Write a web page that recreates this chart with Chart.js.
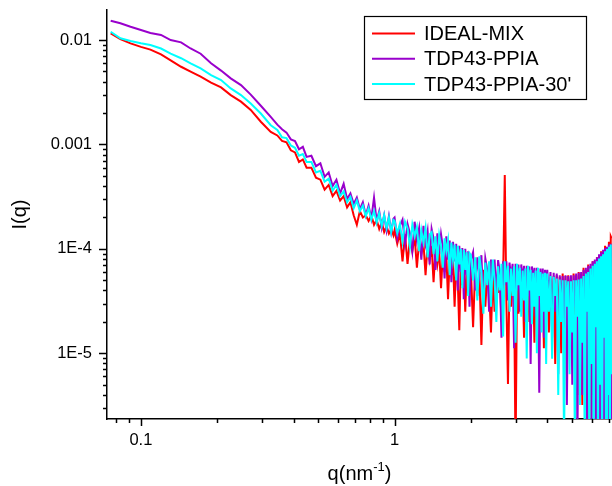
<!DOCTYPE html>
<html>
<head>
<meta charset="utf-8">
<script src="https://cdn.jsdelivr.net/npm/chart.js@4.4.0/dist/chart.umd.min.js"></script>
<style>
  body { margin: 0; background: #fff; }
  canvas { display: block; }
</style>
</head>
<body>
<canvas id="saxs-canvas" width="612" height="486"></canvas>
<script>
// q (nm^-1), shared by the three curves
const qValues = [
    0.076, 0.083, 0.091, 0.1, 0.109, 0.12, 0.131, 0.144, 0.157, 0.172, 0.189, 0.207, 0.226, 0.248, 0.271, 0.297, 0.325,
    0.345, 0.36, 0.375, 0.39, 0.405, 0.42, 0.435, 0.45, 0.47, 0.49, 0.51, 0.53, 0.55, 0.57, 0.59, 0.61, 0.63, 0.65,
    0.67, 0.69, 0.71, 0.73, 0.75, 0.77, 0.79, 0.81, 0.83, 0.85, 0.87, 0.89, 0.91, 0.93, 0.95, 0.97, 0.99,
    1.0, 1.025, 1.05, 1.075, 1.1, 1.125, 1.15, 1.175, 1.2, 1.225, 1.25, 1.275, 1.3, 1.325, 1.35, 1.375, 1.4, 1.425,
    1.45, 1.475, 1.5, 1.525, 1.55, 1.575, 1.6, 1.625, 1.65, 1.675, 1.7, 1.725, 1.75, 1.775, 1.8, 1.825, 1.85, 1.875,
    1.9, 1.925, 1.95, 1.975,
    2.0, 2.04, 2.08, 2.12, 2.16, 2.2, 2.24, 2.28, 2.32, 2.36, 2.4, 2.44, 2.48, 2.52, 2.56, 2.6, 2.64, 2.68, 2.72, 2.76,
    2.8, 2.84, 2.88, 2.92, 2.96, 3.0, 3.04, 3.08, 3.12, 3.16, 3.2, 3.24, 3.28, 3.32, 3.36, 3.4, 3.44, 3.48, 3.52, 3.56,
    3.6, 3.64, 3.68, 3.72, 3.76, 3.8, 3.84, 3.88, 3.92, 3.96,
    4.0, 4.06, 4.12, 4.18, 4.24, 4.3, 4.36, 4.42, 4.48, 4.54, 4.6, 4.66, 4.72, 4.78, 4.84, 4.9, 4.96, 5.02, 5.08, 5.14,
    5.2, 5.26, 5.32, 5.38, 5.44, 5.5, 5.56, 5.62, 5.68, 5.74, 5.8, 5.86, 5.92, 5.98, 6.04, 6.1, 6.16, 6.22, 6.28, 6.34,
    6.4, 6.46, 6.52, 6.58, 6.64, 6.7, 6.76, 6.82, 6.88, 6.94, 7.0, 7.06, 7.12, 7.18
];

// I(q) IDEAL-MIX
const idealMix = [
    1.16e-2, 1.02e-2, 9.3e-3, 8.6e-3, 8.1e-3, 7.3e-3, 6.4e-3, 5.55e-3, 4.98e-3, 4.46e-3, 3.91e-3, 3.52e-3, 2.97e-3, 2.57e-3, 2.14e-3, 1.65e-3, 1.32e-3,
    1.22e-3, 1.08e-3, 1.05e-3, 8.8e-4, 8.4e-4, 6.8e-4, 7.2e-4, 6.0e-4, 6.0e-4, 4.8e-4,
    4.6e-4, 3.7e-4, 4.1e-4, 3.2e-4, 3.6e-4, 2.9e-4, 3.2e-4, 2.5e-4, 2.8e-4, 2.1e-4,
    1.7e-4, 2.3e-4, 2.0e-4, 2.1e-4, 1.85e-4, 2.1e-4, 1.7e-4, 1.9e-4, 1.55e-4, 1.8e-4,
    1.45e-4, 1.65e-4, 1.4e-4, 1.55e-4, 1.35e-4,
    1.51e-4, 1.12e-4, 1.41e-4, 7.6e-5, 1.38e-4, 7.2e-5, 1.26e-4, 9.5e-5, 1.32e-4, 6.6e-5,
    1.2e-4, 8.9e-5, 1.15e-4, 5.6e-5, 1.1e-4, 7.9e-5, 1.07e-4, 4.8e-5, 1.0e-4, 7.1e-5,
    9.5e-5, 4.2e-5, 9.1e-5, 6.0e-5, 8.7e-5, 3.3e-5, 8.3e-5, 5.6e-5, 7.9e-5, 2.8e-5,
    7.6e-5, 5.0e-5, 1.66e-5, 7.2e-5, 4.5e-5, 6.9e-5, 2.5e-5, 6.6e-5, 4.0e-5, 6.3e-5,
    6.3e-5, 1.78e-5, 6.6e-5, 3.55e-5, 6.0e-5, 1.2e-5, 6.3e-5, 2.8e-5, 5.8e-5, 4.0e-5,
    1.58e-5, 5.8e-5, 2.5e-5, 5.6e-5, 3.8e-5, 5.5e-5, 2.0e-5, 5.5e-5, 5.1e-4, 3.2e-5,
    5.1e-6, 5.4e-5, 2.8e-5, 5.4e-5, 4.0e-5, 1.0e-6, 5.2e-5, 2.4e-5, 5.2e-5, 3.55e-5,
    5.1e-5, 1.41e-5, 5.1e-5, 3.2e-5, 5.0e-5, 2.0e-5, 5.0e-5, 3.55e-5, 4.9e-5, 1.26e-5,
    4.9e-5, 2.8e-5, 4.8e-5, 1.78e-5, 4.8e-5, 3.3e-5, 4.7e-5, 1.12e-5, 4.7e-5, 2.5e-5,
    5.0e-5, 1.58e-5, 5.2e-5, 2.8e-5, 5.5e-5, 7.9e-6, 5.6e-5, 2.24e-5, 5.4e-5, 1.0e-5,
    5.8e-5, 2.0e-5, 5.5e-5, 6.3e-6, 5.6e-5, 2.5e-5, 5.4e-5, 1.0e-5, 5.8e-5, 1.78e-5,
    5.6e-5, 4.0e-6, 6.0e-5, 2.0e-5, 5.8e-5, 3.2e-6, 6.6e-5, 1.41e-5, 6.3e-5, 5.0e-6,
    7.1e-5, 1.3e-6, 6.8e-5, 1.0e-5, 7.6e-5, 4.0e-6, 7.2e-5, 1.3e-6, 8.3e-5, 7.9e-6,
    7.9e-5, 1.3e-6, 9.5e-5, 5.0e-6, 8.9e-5, 1.3e-6, 1.07e-4, 6.3e-6, 1.0e-4, 1.3e-6,
    1.17e-4, 3.2e-6, 1.32e-4, 1.26e-4
];

// I(q) TDP43-PPIA
const tdp43Ppia = [
    1.53e-2, 1.45e-2, 1.34e-2, 1.25e-2, 1.17e-2, 1.12e-2, 1.0e-2, 9.5e-3, 8.3e-3, 7.4e-3, 6.0e-3, 5.1e-3, 4.3e-3, 3.7e-3, 3.0e-3, 2.35e-3, 1.84e-3,
    1.55e-3, 1.40e-3, 1.30e-3, 1.12e-3, 1.08e-3, 9.0e-4, 9.5e-4, 7.6e-4, 7.8e-4, 6.2e-4,
    6.6e-4, 4.9e-4, 5.4e-4, 4.0e-4, 4.6e-4, 3.4e-4, 4.2e-4, 3.0e-4, 3.4e-4, 2.7e-4,
    3.1e-4, 2.4e-4, 2.8e-4, 2.1e-4, 2.6e-4, 1.95e-4, 3.1e-4, 1.85e-4, 2.3e-4, 1.6e-4,
    2.1e-4, 1.5e-4, 2.05e-4, 1.45e-4, 1.95e-4,
    2.0e-4, 1.26e-4, 1.66e-4, 1.9e-4, 1.12e-4, 1.74e-4, 1.41e-4, 9.5e-5, 1.82e-4, 1.2e-4,
    1.58e-4, 7.9e-5, 1.66e-4, 1.12e-4, 1.48e-4, 7.1e-5, 1.55e-4, 1.26e-4, 6.3e-5, 1.41e-4,
    8.9e-5, 1.38e-4, 1.05e-4, 5.2e-5, 1.32e-4, 7.9e-5, 1.2e-4, 4.8e-5, 1.17e-4, 7.6e-5,
    1.12e-4, 4.0e-5, 1.07e-4, 6.0e-5, 1.02e-4, 3.3e-5, 1.0e-4, 5.6e-5, 9.5e-5, 2.8e-5,
    7.9e-5, 9.3e-5, 4.0e-5, 8.3e-5, 5.6e-5, 8.7e-5, 2.8e-5, 8.1e-5, 6.3e-5, 2.5e-5,
    7.9e-5, 5.0e-5, 7.9e-5, 3.55e-5, 7.8e-5, 6.0e-5, 1.41e-5, 7.6e-5, 4.5e-5, 7.6e-5,
    3.2e-5, 7.4e-5, 5.2e-5, 7.2e-5, 1.12e-5, 7.2e-5, 4.0e-5, 7.1e-5, 2.5e-5, 7.1e-5,
    4.8e-5, 6.9e-5, 2.0e-5, 6.9e-5, 3.55e-5, 6.8e-5, 7.9e-6, 6.8e-5, 4.5e-5, 6.6e-5,
    2.24e-5, 6.6e-5, 4.0e-5, 4.2e-6, 6.5e-5, 3.2e-5, 6.5e-5, 1.41e-5, 6.3e-5, 3.8e-5,
    6.3e-5, 3.55e-5, 6.0e-5, 1.41e-5, 5.9e-5, 2.5e-5, 5.8e-5, 6.3e-6, 5.6e-5, 3.2e-5,
    5.5e-5, 1.0e-5, 5.6e-5, 3.2e-6, 5.5e-5, 2.0e-5, 5.6e-5, 5.0e-6, 5.6e-5, 2.8e-5,
    5.8e-5, 1.3e-6, 5.9e-5, 1.58e-5, 6.0e-5, 4.0e-6, 6.3e-5, 2.24e-5, 6.6e-5, 1.3e-6,
    6.9e-5, 1.0e-5, 7.2e-5, 1.3e-6, 7.6e-5, 1.78e-5, 7.9e-5, 1.3e-6, 8.3e-5, 5.0e-6,
    8.9e-5, 1.3e-6, 9.3e-5, 1.26e-5, 9.8e-5, 1.3e-6, 1.02e-4, 4.0e-6, 1.05e-4, 1.3e-6,
    1.1e-4, 1.0e-5, 1.12e-4, 1.3e-6
];

// I(q) TDP43-PPIA-30'
const tdp43Ppia30 = [
    1.20e-2, 1.04e-2, 9.8e-3, 9.3e-3, 8.95e-3, 8.3e-3, 7.4e-3, 6.7e-3, 5.98e-3, 5.36e-3, 4.62e-3, 4.14e-3, 3.44e-3, 2.97e-3, 2.47e-3, 1.98e-3, 1.53e-3,
    1.38e-3, 1.17e-3, 1.15e-3, 9.8e-4, 9.3e-4, 7.8e-4, 8.1e-4, 6.8e-4, 6.8e-4, 5.4e-4,
    5.6e-4, 4.4e-4, 4.7e-4, 3.6e-4, 4.1e-4, 3.2e-4, 3.55e-4, 2.8e-4, 3.15e-4, 2.45e-4,
    2.9e-4, 2.3e-4, 2.6e-4, 2.05e-4, 2.45e-4, 1.9e-4, 2.3e-4, 1.78e-4, 2.2e-4, 1.66e-4,
    2.1e-4, 1.58e-4, 2.0e-4, 1.45e-4, 1.9e-4,
    1.86e-4, 1.41e-4, 1.74e-4, 1.17e-4, 1.82e-4, 1.58e-4, 1.05e-4, 1.70e-4, 1.32e-4, 1.62e-4,
    9.5e-5, 1.51e-4, 1.15e-4, 1.58e-4, 8.3e-5, 1.38e-4, 1.45e-4, 8.9e-5, 1.32e-4, 7.6e-5,
    1.35e-4, 1.07e-4, 6.6e-5, 1.26e-4, 9.5e-5, 1.2e-4, 5.6e-5, 1.15e-4, 7.9e-5, 1.1e-4,
    5.0e-5, 1.07e-4, 7.1e-5, 1.0e-4, 4.2e-5, 9.8e-5, 6.3e-5, 9.3e-5, 3.55e-5, 9.1e-5,
    8.7e-5, 5.0e-5, 8.3e-5, 3.2e-5, 8.5e-5, 6.0e-5, 2.4e-5, 7.4e-5, 4.5e-5, 7.6e-5,
    2.8e-5, 7.9e-5, 5.2e-5, 2.0e-5, 6.8e-5, 4.0e-5, 7.2e-5, 1.45e-5, 7.6e-5, 4.8e-5,
    6.9e-5, 2.5e-5, 6.5e-5, 3.55e-5, 6.8e-5, 1.26e-5, 7.2e-5, 4.5e-5, 6.6e-5, 2.24e-5,
    6.2e-5, 3.2e-5, 6.5e-5, 8.9e-6, 6.9e-5, 4.0e-5, 6.3e-5, 1.9e-5, 5.9e-5, 2.8e-5,
    6.2e-5, 1.0e-5, 6.6e-5, 3.55e-5, 6.0e-5, 1.58e-5, 5.8e-5, 2.5e-5, 5.9e-5, 7.9e-6,
    5.8e-5, 2.5e-5, 5.5e-5, 8.9e-6, 5.4e-5, 3.55e-5, 5.2e-5, 4.0e-6, 5.1e-5, 2.0e-5,
    5.0e-5, 1.3e-6, 5.0e-5, 2.8e-5, 4.9e-5, 6.3e-6, 4.9e-5, 1.58e-5, 5.0e-5, 1.3e-6,
    5.0e-5, 2.24e-5, 5.1e-5, 3.2e-6, 5.2e-5, 1.26e-5, 5.5e-5, 1.3e-6, 5.8e-5, 2.5e-5,
    6.0e-5, 1.3e-6, 6.5e-5, 7.9e-6, 6.9e-5, 1.3e-6, 7.2e-5, 1.78e-5, 7.6e-5, 1.3e-6,
    8.1e-5, 5.0e-6, 8.5e-5, 1.3e-6, 8.9e-5, 1.41e-5, 9.5e-5, 1.3e-6, 1.0e-4, 4.0e-6,
    1.05e-4, 1.3e-6, 1.1e-4, 6.3e-6
];

const seriesLabels = ['IDEAL-MIX', 'TDP43-PPIA', "TDP43-PPIA-30'"];
const seriesColors = ['#ff0000', '#9900cc', '#00ffff'];

// labelled ticks
const xTickValues = [0.1, 1];
const xTickLabels = ['0.1', '1'];
const yTickValues = [1e-5, 1e-4, 1e-3, 1e-2];
const yTickLabels = ['1E-5', '1E-4', '0.001', '0.01'];

const FONT = '"Liberation Sans", Arial, sans-serif';

// 1..9 x 10^n ticks inside [min, max]
function logTicks(min, max) {
    let ticks = [];
    for (let e = Math.floor(Math.log10(min)); e <= Math.ceil(Math.log10(max)); e++) {
        for (let m = 1; m <= 9; m++) {
            let v = m * Math.pow(10, e);
            if (v >= min && v <= max) ticks.push({value: v});
        }
    }
    return ticks;
}

function tickLabel(value, values, labels) {
    for (let i = 0; i < values.length; i++) {
        if (Math.abs(value / values[i] - 1) < 1e-6) return labels[i];
    }
    return '';
}

function toPoints(ys) {
    return qValues.map((q, i) => ({x: q, y: ys[i]}));
}

// no extra room for half tick labels at the ends of the axes
function fixBox(scale, size) {
    if (scale.isHorizontal()) {
        scale.height = size;
    } else {
        scale.width = size;
    }
    scale.paddingTop = 0;
    scale.paddingBottom = 0;
    scale.paddingLeft = 0;
    scale.paddingRight = 0;
}

// short / long tick marks outside the axes
const tickMarks = {
    id: 'tickMarks',
    afterDraw(chart) {
        let ctx = chart.ctx;
        let xs = chart.scales.x, ys = chart.scales.y;
        ctx.save();
        ctx.strokeStyle = '#000';
        ctx.lineWidth = 1.5;
        ctx.beginPath();
        xs.ticks.forEach(t => {
            let px = Math.round(xs.getPixelForValue(t.value)) + 0.5;
            let len = t.label ? 7 : 4;
            ctx.moveTo(px, xs.top);
            ctx.lineTo(px, xs.top + len);
        });
        ys.ticks.forEach(t => {
            let py = Math.round(ys.getPixelForValue(t.value)) + 0.5;
            let len = t.label ? 8 : 4;
            ctx.moveTo(ys.right, py);
            ctx.lineTo(ys.right - len, py);
        });
        ctx.stroke();
        ctx.restore();
    }
};

// boxed legend in the upper right
const legendBox = {
    id: 'legendBox',
    afterDraw(chart) {
        let ctx = chart.ctx;
        let bx = 364, by = 16, bw = 222, bh = 83;
        ctx.save();
        ctx.fillStyle = '#fff';
        ctx.fillRect(bx, by, bw, bh);
        ctx.strokeStyle = '#000';
        ctx.lineWidth = 1.2;
        ctx.strokeRect(bx + 0.5, by + 0.5, bw, bh);
        ctx.font = '20px ' + FONT;
        ctx.textBaseline = 'middle';
        ctx.textAlign = 'left';
        chart.data.datasets.forEach((ds, i) => {
            let y = by + 17.5 + i * 25.3;
            ctx.strokeStyle = ds.borderColor;
            ctx.lineWidth = 2;
            ctx.beginPath();
            ctx.moveTo(372, y);
            ctx.lineTo(415, y);
            ctx.stroke();
            ctx.fillStyle = '#000';
            ctx.fillText(ds.label, 424, y + 1);
        });
        ctx.restore();
    }
};

// x axis title with superscript
const xTitle = {
    id: 'xTitle',
    afterDraw(chart) {
        let ctx = chart.ctx;
        let area = chart.chartArea;
        let cx = (area.left + area.right) / 2;
        let base = 480;
        ctx.save();
        ctx.fillStyle = '#000';
        ctx.textBaseline = 'alphabetic';
        ctx.textAlign = 'left';
        let big = '20px ' + FONT, small = '13px ' + FONT;
        ctx.font = big;
        let w1 = ctx.measureText('q(nm').width;
        let w3 = ctx.measureText(')').width;
        ctx.font = small;
        let w2 = ctx.measureText('-1').width;
        let x = cx - (w1 + w2 + w3) / 2;
        ctx.font = big;
        ctx.fillText('q(nm', x, base);
        ctx.font = small;
        ctx.fillText('-1', x + w1, base - 9);
        ctx.font = big;
        ctx.fillText(')', x + w1 + w2, base);
        ctx.restore();
    }
};

let ctx = document.getElementById('saxs-canvas').getContext('2d');
let chart = new Chart(ctx, {
    type: 'line',
    data: {
        datasets: [idealMix, tdp43Ppia, tdp43Ppia30].map((ys, i) => ({
            label: seriesLabels[i],
            data: toPoints(ys),
            borderColor: seriesColors[i],
            backgroundColor: seriesColors[i],
            borderWidth: 2,
            pointRadius: 0,
            tension: 0,
            fill: false,
            // cyan on top, red underneath
            order: 3 - i
        }))
    },
    options: {
        responsive: false,
        animation: false,
        devicePixelRatio: 1,
        layout: {padding: {top: 10, right: 0, left: 0, bottom: 0}},
        plugins: {
            legend: {display: false},
            tooltip: {enabled: false}
        },
        scales: {
            x: {
                type: 'logarithmic',
                min: 0.0735,
                max: 7.2,
                afterBuildTicks: (scale) => { scale.ticks = logTicks(scale.min, scale.max); },
                afterFit: (scale) => fixBox(scale, 67),
                grid: {display: true, drawOnChartArea: false, drawTicks: false},
                border: {display: true, color: '#000', width: 1.5},
                ticks: {
                    autoSkip: false,
                    maxRotation: 0,
                    padding: 12,
                    color: '#000',
                    font: {family: FONT, size: 16.5},
                    callback: (v) => tickLabel(v, xTickValues, xTickLabels)
                }
            },
            y: {
                type: 'logarithmic',
                min: 2.35e-6,
                max: 0.0194,
                afterBuildTicks: (scale) => { scale.ticks = logTicks(scale.min, scale.max); },
                afterFit: (scale) => fixBox(scale, 107),
                grid: {display: true, drawOnChartArea: false, drawTicks: false},
                border: {display: true, color: '#000', width: 1.5},
                title: {
                    display: true,
                    text: 'I(q)',
                    color: '#000',
                    font: {family: FONT, size: 20},
                    padding: {top: 8, bottom: 0}
                },
                ticks: {
                    autoSkip: false,
                    padding: 15,
                    color: '#000',
                    font: {family: FONT, size: 16.5},
                    callback: (v) => tickLabel(v, yTickValues, yTickLabels)
                }
            }
        }
    },
    plugins: [tickMarks, legendBox, xTitle]
});
</script>
</body>
</html>
